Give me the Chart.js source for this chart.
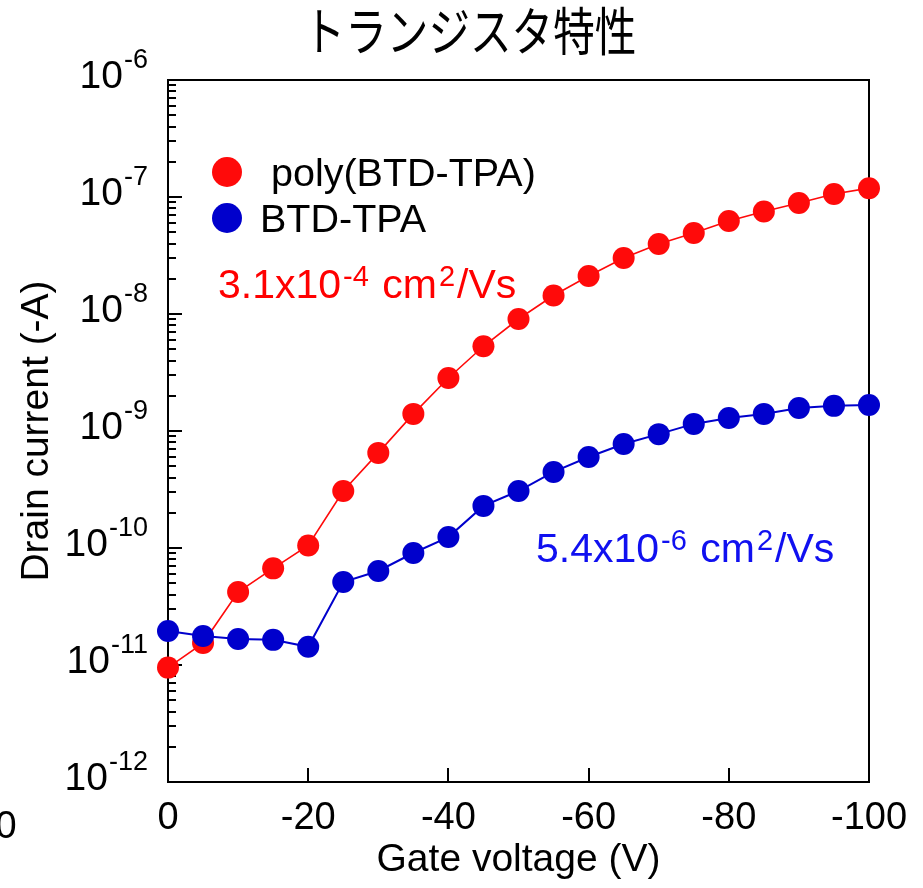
<!DOCTYPE html>
<html>
<head>
<meta charset="utf-8">
<script src="https://cdn.jsdelivr.net/npm/chart.js@4.4.1/dist/chart.umd.min.js"></script>
<style>
  html, body { margin: 0; padding: 0; background: #ffffff; }
  canvas { display: block; }
</style>
</head>
<body>
<canvas id="chart" width="923" height="888"></canvas>
<script>
// Transfer curves: drain current vs gate voltage
const gateVoltage = [0, -5, -10, -15, -20, -25, -30, -35, -40, -45, -50,
                     -55, -60, -65, -70, -75, -80, -85, -90, -95, -100];
const polyCurrent = [9.5e-12, 1.54e-11, 4.2e-11, 6.7e-11, 1.05e-10, 3.07e-10, 6.5e-10,
                     1.40e-9, 2.84e-9, 5.3e-9, 9.06e-9, 1.44e-8, 2.11e-8, 3.01e-8,
                     3.96e-8, 4.92e-8, 6.23e-8, 7.52e-8, 8.89e-8, 1.06e-7, 1.19e-7];
const monomerCurrent = [1.95e-11, 1.77e-11, 1.67e-11, 1.64e-11, 1.43e-11, 5.12e-11, 6.36e-11,
                        9.06e-11, 1.24e-10, 2.29e-10, 3.07e-10, 4.47e-10, 6.0e-10, 7.75e-10,
                        9.4e-10, 1.15e-9, 1.29e-9, 1.40e-9, 1.57e-9, 1.64e-9, 1.67e-9];
const seriesNames = ['poly(BTD-TPA)', 'BTD-TPA'];
const yDecades = [-12, -11, -10, -9, -8, -7, -6];
const xTickValues = [0, -20, -40, -60, -80, -100];
const chartTitle = 'トランジスタ特性';
const xTitle = 'Gate voltage (V)';
const yTitle = 'Drain current (-A)';
// mobility notes: normal / superscript runs alternate
const mobilityPoly = ['3.1x10', '-4', ' cm', '2', '/Vs'];
const mobilityMonomer = ['5.4x10', '-6', ' cm', '2', '/Vs'];

const RED = '#ff0a0a';
const BLUE = '#0000cc';
const BLUE_TEXT = '#1010f0';
const SANS = '"Liberation Sans", Arial, Helvetica, sans-serif';

function toPoints(xs, ys) {
  return xs.map((v, i) => ({ x: v, y: ys[i] }));
}

// draw text runs where every second run is a superscript
function drawRuns(ctx, runs, x, baseline, size, supSize, supRise, color) {
  ctx.fillStyle = color;
  ctx.textAlign = 'left';
  ctx.textBaseline = 'alphabetic';
  let cx = x;
  runs.forEach((t, i) => {
    const sup = i % 2 === 1;
    ctx.font = (sup ? supSize : size) + 'px ' + SANS;
    if (sup) cx += 2;
    ctx.fillText(t, cx, sup ? baseline - supRise : baseline);
    cx += ctx.measureText(t).width;
    if (sup) cx += 2;
  });
}

const axesAndText = {
  id: 'axesAndText',
  beforeDatasetsDraw(chart) {
    const { ctx, chartArea: a, scales: { x, y } } = chart;
    ctx.save();
    ctx.strokeStyle = '#000000';
    ctx.lineWidth = 2;
    ctx.strokeRect(a.left, a.top, a.right - a.left, a.bottom - a.top);
    ctx.beginPath();
    // inward log ticks on the left axis
    for (let e = yDecades[0]; e < yDecades[yDecades.length - 1]; e++) {
      for (let m = 1; m < 10; m++) {
        const py = Math.round(y.getPixelForValue(m * Math.pow(10, e)));
        const len = m === 1 ? 14 : 8;
        ctx.moveTo(a.left, py);
        ctx.lineTo(a.left + len, py);
      }
    }
    const topY = Math.round(y.getPixelForValue(Math.pow(10, yDecades[yDecades.length - 1])));
    ctx.moveTo(a.left, topY);
    ctx.lineTo(a.left + 14, topY);
    // inward ticks on the bottom axis
    xTickValues.forEach(v => {
      const px = Math.round(x.getPixelForValue(v));
      ctx.moveTo(px, a.bottom);
      ctx.lineTo(px, a.bottom - 14);
    });
    ctx.stroke();
    ctx.restore();
  },
  afterDraw(chart) {
    const { ctx, chartArea: a, scales: { x, y } } = chart;
    ctx.save();

    // y tick labels: 10 with superscript exponent
    yDecades.forEach(e => {
      const py = y.getPixelForValue(Math.pow(10, e));
      const right = a.left - 20;
      ctx.fillStyle = '#000000';
      ctx.textBaseline = 'alphabetic';
      ctx.textAlign = 'right';
      ctx.font = '27px ' + SANS;
      const exp = String(e);
      ctx.fillText(exp, right, py - 12);
      const w = ctx.measureText(exp).width;
      ctx.font = '39px ' + SANS;
      ctx.fillText('10', right - w - 1, py + 8);
    });

    // x tick labels
    ctx.font = '38px ' + SANS;
    ctx.textAlign = 'center';
    ctx.fillStyle = '#000000';
    xTickValues.forEach(v => {
      ctx.fillText(String(v), x.getPixelForValue(v), a.bottom + 47);
    });
    // lone zero at the left edge
    ctx.font = '38px ' + SANS;
    ctx.fillText('0', 6, a.bottom + 56);

    // axis titles
    ctx.font = '39px ' + SANS;
    ctx.fillText(xTitle, (a.left + a.right) / 2, a.bottom + 89);
    ctx.save();
    ctx.translate(48, (a.top + a.bottom) / 2);
    ctx.rotate(-Math.PI / 2);
    ctx.font = '39px ' + SANS;
    ctx.textAlign = 'center';
    ctx.fillText(yTitle, 0, 0);
    ctx.restore();

    // chart title, slightly condensed
    ctx.save();
    ctx.translate(470, 51);
    ctx.scale(0.8, 1);
    ctx.font = '52px "Noto Sans CJK JP", "Noto Sans CJK SC", sans-serif';
    ctx.textAlign = 'center';
    ctx.fillStyle = '#000000';
    ctx.fillText(chartTitle, 0, 0);
    ctx.restore();

    // legend
    const legend = [
      { name: ' ' + seriesNames[0], color: RED, cy: 172 },
      { name: seriesNames[1], color: BLUE, cy: 218 }
    ];
    legend.forEach(item => {
      ctx.beginPath();
      ctx.fillStyle = item.color;
      ctx.arc(227, item.cy, 15, 0, Math.PI * 2);
      ctx.fill();
      ctx.fillStyle = '#000000';
      ctx.font = '39.5px ' + SANS;
      ctx.textAlign = 'left';
      ctx.fillText(item.name, 260, item.cy + 14);
    });

    // mobility notes
    drawRuns(ctx, mobilityPoly, 218, 298, 41, 29, 12, '#ff0000');
    drawRuns(ctx, mobilityMonomer, 536, 562, 41, 29, 12, BLUE_TEXT);

    ctx.restore();
  }
};

new Chart(document.getElementById('chart'), {
  type: 'scatter',
  data: {
    datasets: [
      {
        label: seriesNames[1],
        data: toPoints(gateVoltage, monomerCurrent),
        showLine: true,
        borderColor: BLUE,
        borderWidth: 2,
        backgroundColor: BLUE,
        pointBackgroundColor: BLUE,
        pointBorderWidth: 0,
        pointRadius: 11,
        pointHoverRadius: 11,
        clip: false
      },
      {
        label: seriesNames[0],
        data: toPoints(gateVoltage, polyCurrent),
        showLine: true,
        borderColor: RED,
        borderWidth: 1.6,
        backgroundColor: RED,
        pointBackgroundColor: RED,
        pointBorderWidth: 0,
        pointRadius: 11,
        pointHoverRadius: 11,
        clip: false
      }
    ]
  },
  options: {
    responsive: false,
    animation: false,
    devicePixelRatio: 1,
    layout: { padding: { left: 168, top: 80, right: 54, bottom: 106 } },
    plugins: {
      legend: { display: false },
      title: { display: false },
      tooltip: { enabled: false }
    },
    scales: {
      x: { type: 'linear', min: -100, max: 0, reverse: true, display: false },
      y: { type: 'logarithmic', min: 1e-12, max: 1e-6, display: false }
    }
  },
  plugins: [axesAndText]
});
</script>
</body>
</html>
